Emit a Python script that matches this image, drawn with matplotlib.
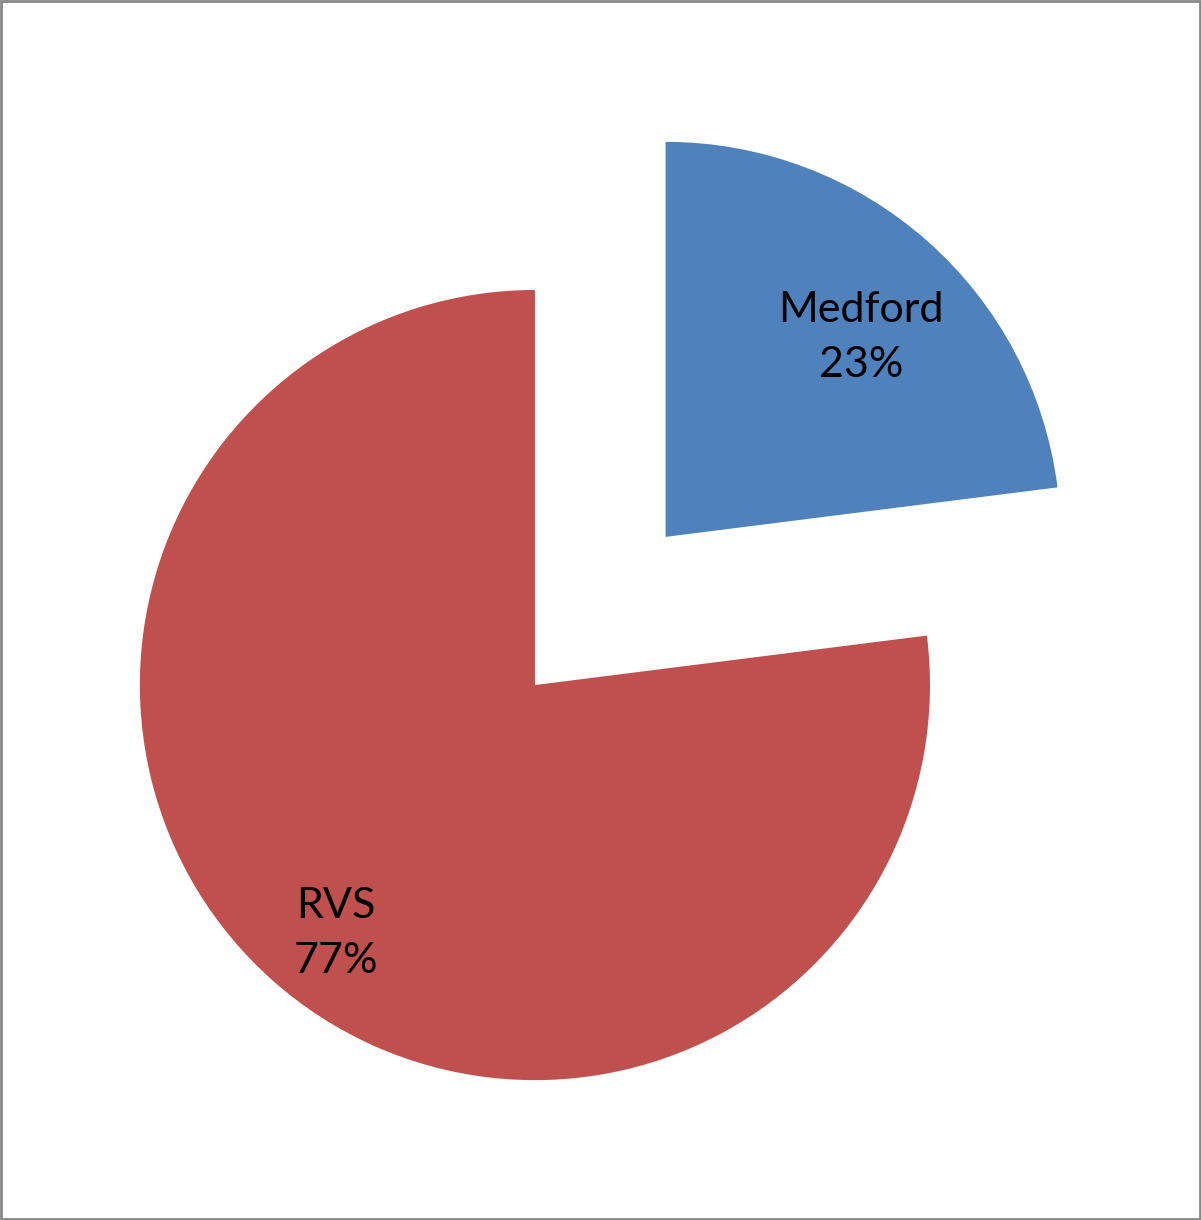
import matplotlib.pyplot as plt
import numpy as np

# Share of cases by site
sites = ["Medford", "RVS"]
shares = np.array([23, 77])
colors = ["#4F81BD", "#C0504D"]
explode = [0.5, 0]
label_dist = [0.71, 0.80]

fig = plt.figure(figsize=(12.01, 12.2), dpi=100)
ax = fig.add_axes([0, 0, 1, 1])

wedges, texts = ax.pie(shares, colors=colors, explode=explode,
                       startangle=90, counterclock=False,
                       labels=[f"{s}\n{v}%" for s, v in zip(sites, shares)],
                       wedgeprops=dict(linewidth=0),
                       textprops=dict(family="Lato", fontsize=31, color="black",
                                      ha="center", va="center", linespacing=1.55))

# move each label toward its own wedge's middle
for w, t, d in zip(wedges, texts, label_dist):
    mid = np.deg2rad((w.theta1 + w.theta2) / 2)
    cx, cy = w.center
    t.set_position((cx + d * np.cos(mid) + 0.025, cy + d * np.sin(mid) - 0.028))
    t.set_horizontalalignment("center")

ax.set_xlim(-1.354, 1.686)
ax.set_ylim(-1.354, 1.734)
ax.set_aspect("equal")
ax.axis("off")

# thin grey frame around the chart area
fig.patches.append(plt.Rectangle((0.001, 0.001), 0.998, 0.998, transform=fig.transFigure,
                                 fill=False, edgecolor="#888888", linewidth=2))

fig.savefig("out.png", dpi=100, facecolor="white")
